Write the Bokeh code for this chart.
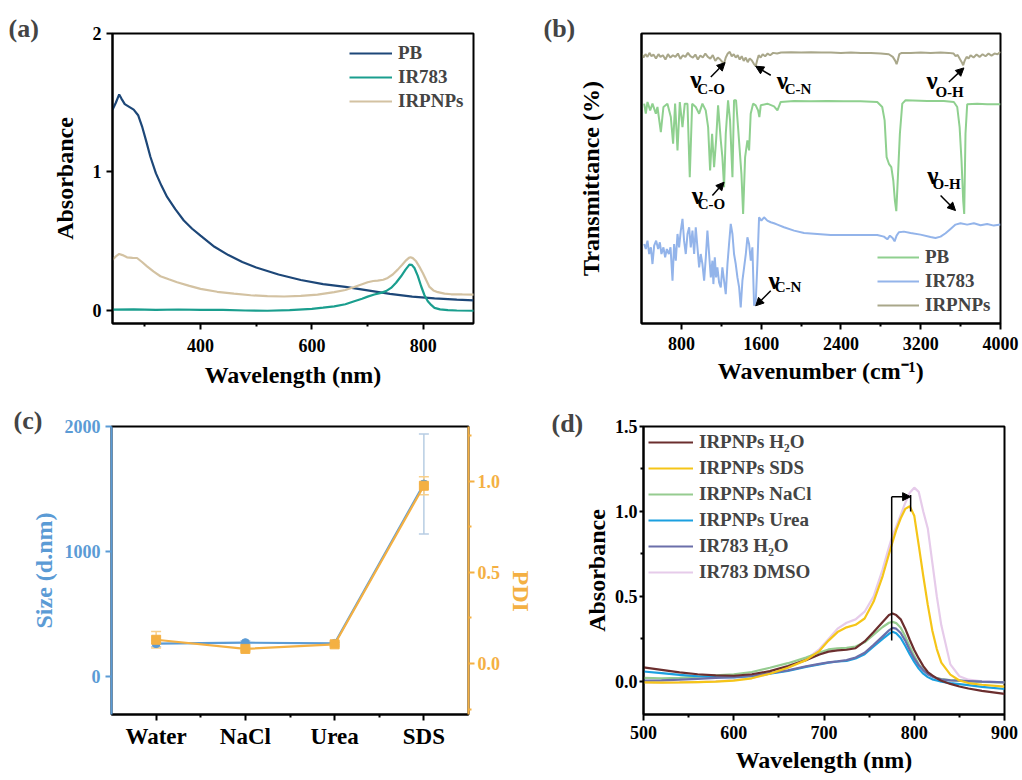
from bokeh.plotting import figure
from bokeh.layouts import column, row
from bokeh.models import (Range1d, LinearAxis, FixedTicker, Legend, LegendItem, Label,
                          Arrow, NormalHead, Whisker, TeeHead, ColumnDataSource,
                          NumeralTickFormatter)
from bokeh.core.properties import value
from bokeh.embed import file_html
from bokeh.resources import INLINE

FONT = "Liberation Serif"

# ---------------- (a) UV-vis ----------------
a_pb_wl = [242, 248, 254, 258, 264, 272, 280, 288, 295, 302, 310, 320, 330, 340, 355, 370, 385, 400,
           425, 450, 475, 500, 540, 580, 620, 660, 700, 740, 780, 820, 860, 890]
a_pb_abs = [1.45, 1.50, 1.56, 1.53, 1.49, 1.47, 1.45, 1.41, 1.33, 1.23, 1.11, 0.99, 0.90, 0.82, 0.73,
            0.65, 0.59, 0.54, 0.46, 0.40, 0.35, 0.31, 0.26, 0.22, 0.19, 0.17, 0.145, 0.12, 0.10,
            0.088, 0.078, 0.073]
a_np_wl = [242, 248, 254, 260, 268, 278, 286, 295, 304, 316, 328, 343, 358, 380, 400, 430, 460, 490,
           520, 550, 580, 610, 640, 660, 676, 690, 700, 710, 718, 728, 736, 745, 754, 762, 769, 774,
           777, 781, 787, 793, 799, 805, 811, 818, 826, 838, 850, 870, 891]
a_np_abs = [0.367, 0.39, 0.408, 0.40, 0.384, 0.38, 0.379, 0.35, 0.319, 0.28, 0.247, 0.225, 0.204,
            0.178, 0.156, 0.135, 0.122, 0.11, 0.103, 0.101, 0.105, 0.115, 0.132, 0.148, 0.17, 0.19,
            0.204, 0.213, 0.216, 0.222, 0.235, 0.26, 0.295, 0.33, 0.362, 0.38, 0.384, 0.378, 0.355,
            0.315, 0.271, 0.22, 0.17, 0.145, 0.132, 0.122, 0.117, 0.116, 0.115]
a_ir_wl = [242, 280, 320, 360, 400, 440, 480, 520, 560, 600, 620, 640, 660, 676, 690, 700, 712, 724,
           733, 742, 751, 760, 768, 775, 779, 784, 790, 796, 802, 808, 814, 820, 830, 844, 860, 891]
a_ir_abs = [0.006, 0.008, 0.004, 0.007, 0.004, 0.005, 0.0, -0.002, 0.002, 0.012, 0.02, 0.03, 0.045,
            0.067, 0.085, 0.10, 0.115, 0.127, 0.14, 0.163, 0.2, 0.247, 0.295, 0.331, 0.33, 0.307,
            0.25, 0.175, 0.11, 0.067, 0.04, 0.019, 0.008, 0.002, 0.0, -0.002]

# ---------------- (b) FTIR (offset transmittance, a.u.) ----------------
b_pb_wn = [427, 443, 460, 487, 510, 544, 560, 594, 620, 660, 694, 717, 737, 761, 784, 811, 834, 861,
           884, 908, 944, 978, 1011, 1044, 1068, 1088, 1108, 1128, 1148, 1168, 1195, 1211, 1228,
           1245, 1268, 1288, 1312, 1328, 1348, 1368, 1385, 1402, 1419, 1439, 1462, 1479, 1495, 1519,
           1545, 1569, 1582, 1596, 1662, 1729, 1763, 1796, 1930, 2096, 2263, 2430, 2597, 2764, 2814,
           2838, 2858, 2881, 2905, 2925, 2941, 2955, 2971, 2991, 3015, 3048, 3265, 3432, 3532, 3566,
           3590, 3609, 3626, 3636, 3649, 3666, 3766, 3866, 4000]
b_pb_t = [65.8, 62.8, 66.3, 63.8, 65.8, 62.8, 64.8, 57.3, 64.8, 65.8, 61.8, 53.8, 65.8, 51.8, 66.3,
          58.8, 65.8, 65.8, 43.8, 65.8, 64.8, 62.8, 65.8, 63.8, 58.8, 45.8, 56.8, 46.8, 54.8, 65.3,
          54.8, 49.8, 40.8, 56.8, 66.8, 60.8, 43.8, 66.8, 66.8, 58.8, 51.8, 44.8, 32.8, 49.8, 54.8,
          51.8, 62.8, 65.8, 65.3, 63.8, 61.8, 65.3, 65.8, 65.0, 63.8, 66.3, 66.6, 66.5, 66.6, 66.5,
          66.5, 66.3, 64.8, 60.8, 49.8, 47.8, 46.8, 42.8, 36.8, 33.6, 43.8, 56.8, 65.8, 66.8, 66.6,
          66.6, 66.3, 64.8, 58.8, 48.8, 36.8, 32.8, 56.8, 65.6, 65.8, 65.6, 65.6]
b_ir_wn = [427, 443, 460, 477, 494, 510, 527, 547, 567, 584, 600, 620, 637, 654, 674, 691, 711, 727,
           744, 761, 777, 794, 811, 827, 844, 861, 878, 894, 911, 928, 944, 961, 978, 994, 1011,
           1028, 1045, 1061, 1078, 1095, 1111, 1121, 1135, 1148, 1161, 1178, 1195, 1211, 1228, 1245,
           1262, 1278, 1295, 1312, 1328, 1345, 1362, 1379, 1395, 1412, 1429, 1446, 1462, 1479, 1496,
           1512, 1529, 1546, 1562, 1579, 1602, 1629, 1662, 1696, 1729, 1763, 1829, 1930, 2030, 2163,
           2297, 2430, 2597, 2764, 2831, 2865, 2891, 2918, 2938, 2958, 2981, 3031, 3098, 3198, 3298,
           3348, 3399, 3449, 3499, 3549, 3599, 3666, 3733, 3800, 3866, 3933, 4000]
b_ir_t = [23.8, 22.3, 24.8, 20.8, 22.8, 17.8, 23.3, 24.8, 22.3, 24.3, 20.8, 22.8, 19.8, 22.3, 20.8,
          22.8, 12.8, 23.8, 18.8, 26.8, 22.8, 27.8, 31.3, 24.8, 20.8, 26.8, 28.8, 22.8, 27.8, 20.8,
          28.8, 22.8, 16.8, 20.8, 17.8, 12.8, 19.8, 27.8, 20.8, 13.8, 18.8, 11.8, 19.8, 13.8, 16.8,
          12.3, 10.8, 16.8, 12.8, 8.8, 17.8, 23.8, 29.8, 26.8, 20.8, 17.8, 13.8, 10.8, 4.8, 12.8,
          16.8, 20.8, 25.8, 23.8, 18.8, 22.8, 5.3, 6.8, 17.8, 31.8, 30.8, 31.8, 30.8, 30.3, 30.0,
          29.6, 28.8, 27.8, 27.1, 26.8, 26.5, 26.5, 26.5, 26.5, 26.0, 25.2, 26.3, 25.6, 24.6, 26.3,
          27.3, 27.5, 27.1, 26.6, 25.9, 25.6, 26.0, 27.0, 28.3, 29.6, 30.0, 29.6, 30.0, 29.4, 29.8,
          29.3, 29.6]
b_np_wn = [400, 420, 440, 460, 480, 500, 520, 545, 570, 590, 615, 640, 665, 690, 715, 740, 765, 790,
           815, 840, 865, 890, 915, 940, 965, 990, 1015, 1040, 1065, 1090, 1115, 1140, 1165, 1190,
           1210, 1228, 1245, 1265, 1285, 1305, 1325, 1345, 1365, 1385, 1405, 1425, 1445, 1465, 1485,
           1505, 1525, 1545, 1560, 1575, 1595, 1615, 1640, 1665, 1690, 1720, 1760, 1800, 1900, 2000,
           2100, 2200, 2300, 2400, 2500, 2600, 2700, 2800, 2880, 2920, 2945, 2958, 2970, 2985, 3010,
           3100, 3200, 3300, 3400, 3480, 3530, 3550, 3570, 3590, 3610, 3626, 3640, 3660, 3680, 3700,
           3730, 3760, 3790, 3820, 3850, 3880, 3910, 3940, 3970, 4000]
b_np_t = [80.8, 79.6, 80.6, 79.8, 81.0, 80.0, 80.5, 79.3, 80.6, 79.8, 80.3, 79.0, 80.6, 79.6, 80.3,
          79.8, 80.8, 79.2, 80.3, 79.8, 81.0, 80.0, 79.6, 80.5, 79.0, 80.2, 79.6, 80.8, 79.8, 79.3,
          80.3, 78.6, 79.6, 79.0, 78.3, 77.8, 79.6, 80.8, 81.3, 80.0, 80.6, 79.6, 80.3, 79.0, 80.0,
          78.6, 79.6, 78.2, 79.3, 78.8, 77.8, 77.0, 78.8, 80.3, 79.6, 80.6, 80.0, 80.8, 80.3, 81.0,
          80.8, 81.1, 81.2, 81.1, 81.2, 81.1, 81.1, 81.0, 81.1, 81.0, 81.0, 80.8, 80.6, 79.8, 78.6,
          77.6, 78.8, 80.6, 81.0, 81.0, 81.1, 81.0, 81.1, 81.0, 80.8, 80.0, 80.4, 79.3, 78.3, 77.3,
          78.6, 79.8, 79.3, 80.3, 79.6, 80.5, 79.8, 80.6, 80.0, 80.8, 80.2, 80.8, 80.6, 81.3]
# band annotations (nu labels, subscripts, arrows)
b_nu_x = [944, 1813, 3315, 961, 3322, 1729]
b_nu_y = [73.1, 72.6, 72.6, 38.3, 44.3, 12.8]
b_sub_x = [1098, 1970, 3489, 1101, 3459, 1869]
b_sub_y = [70.3, 70.3, 69.3, 35.8, 41.8, 10.8]
b_sub_text = ["C-O", "C-N", "O-H", "C-O", "O-H", "C-N"]
b_arr_x0 = [1095, 1696, 3482, 1111, 3399, 1696]
b_arr_y0 = [73.8, 74.3, 72.3, 38.3, 38.3, 9.8]
b_arr_x1 = [1238, 1545, 3633, 1228, 3549, 1545]
b_arr_y1 = [78.1, 77.0, 76.5, 42.3, 33.8, 5.3]

# ---------------- (c) stability ----------------
c_cats = ["Water", "NaCl", "Urea", "SDS"]
c_size = [262, 270, 264, 1540]
c_size_err = [25, 15, 10, 400]
c_pdi = [0.13, 0.08, 0.105, 0.975]
c_pdi_err = [0.045, 0.01, 0.01, 0.05]

# ---------------- (d) UV-vis in media ----------------
d_wl = [500, 520, 540, 560, 580, 600, 620, 640, 660, 680, 695, 705, 715, 725, 735, 745, 755, 765,
        772, 776, 780, 785, 790, 795, 800, 805, 810, 815, 820, 825, 830, 840, 850, 860, 875, 900]
d_np_h2o = [0.082, 0.068, 0.053, 0.042, 0.035, 0.033, 0.042, 0.06, 0.09, 0.125, 0.158, 0.175, 0.182,
            0.186, 0.195, 0.235, 0.29, 0.35, 0.39, 0.399, 0.39, 0.365, 0.31, 0.245, 0.185, 0.135,
            0.09, 0.055, 0.035, 0.018, 0.004, -0.015, -0.03, -0.042, -0.056, -0.074]
d_np_sds = [-0.006, -0.007, -0.006, -0.004, -0.002, 0.004, 0.018, 0.045, 0.08, 0.125, 0.18, 0.24,
            0.29, 0.318, 0.333, 0.37, 0.47, 0.62, 0.75, 0.82, 0.89, 0.96, 1.015, 1.031, 0.975, 0.8,
            0.62, 0.45, 0.3, 0.19, 0.11, 0.04, 0.005, -0.01, -0.02, -0.031]
d_np_nacl = [0.02, 0.018, 0.02, 0.028, 0.035, 0.042, 0.055, 0.08, 0.107, 0.14, 0.17, 0.188, 0.195,
             0.197, 0.205, 0.23, 0.275, 0.32, 0.345, 0.35, 0.343, 0.315, 0.265, 0.205, 0.15, 0.1,
             0.07, 0.045, 0.03, 0.02, 0.013, 0.007, 0.004, 0.0, -0.003, -0.006]
d_np_urea = [0.058, 0.048, 0.038, 0.03, 0.025, 0.024, 0.03, 0.045, 0.062, 0.085, 0.1, 0.11, 0.117,
             0.12, 0.135, 0.16, 0.205, 0.25, 0.28, 0.292, 0.283, 0.255, 0.21, 0.16, 0.115, 0.075,
             0.045, 0.025, 0.012, 0.005, -0.002, -0.01, -0.016, -0.022, -0.032, -0.045]
d_ir_h2o = [0.004, 0.006, 0.01, 0.015, 0.02, 0.025, 0.033, 0.048, 0.065, 0.088, 0.103, 0.112, 0.118,
            0.125, 0.14, 0.168, 0.215, 0.265, 0.3, 0.315, 0.31, 0.285, 0.24, 0.185, 0.135, 0.095,
            0.065, 0.042, 0.028, 0.018, 0.012, 0.006, 0.004, 0.002, -0.002, -0.006]
d_ir_dmso = [-0.006, -0.007, -0.006, -0.004, 0.0, 0.008, 0.02, 0.045, 0.08, 0.13, 0.19, 0.25, 0.31,
             0.345, 0.365, 0.41, 0.5, 0.66, 0.79, 0.86, 0.91, 0.98, 1.05, 1.11, 1.14, 1.115, 1.0,
             0.9, 0.7, 0.5, 0.33, 0.1, 0.03, 0.01, 0.0, -0.006]
d_labels = ["IRPNPs H\u2082O", "IRPNPs SDS", "IRPNPs NaCl", "IRPNPs Urea", "IR783 H\u2082O",
            "IR783 DMSO"]
# red-shift marker (775 nm -> 796 nm)
d_shift_from = 775
d_shift_to = 796
d_shift_level = 1.087


def style_axis(ax, color="black", tick=18, label=24):
    ax.axis_line_width = 2
    ax.axis_line_color = color
    ax.major_tick_line_color = color
    ax.major_tick_line_width = 2
    ax.major_tick_out = 6
    ax.major_tick_in = 0
    ax.minor_tick_line_color = color
    ax.minor_tick_line_width = 2
    ax.minor_tick_out = 3
    ax.minor_tick_in = 0
    ax.major_label_text_font = FONT
    ax.major_label_text_font_style = "bold"
    ax.major_label_text_font_size = f"{tick}px"
    ax.major_label_text_color = color
    ax.axis_label_text_font = FONT
    ax.axis_label_text_font_style = "bold"
    ax.axis_label_text_font_size = f"{label}px"
    ax.axis_label_text_color = color


def mkfig(w, h, xr, yr, bl, br, bt, bb):
    p = figure(width=w, height=h, x_range=Range1d(*xr), y_range=Range1d(*yr),
               output_backend="svg", toolbar_location=None, tools="",
               min_border_left=bl, min_border_right=br, min_border_top=bt, min_border_bottom=bb)
    p.xgrid.visible = False
    p.ygrid.visible = False
    p.outline_line_color = "black"
    p.outline_line_width = 2
    p.outline_line_alpha = 1
    p.background_fill_color = "white"
    p.border_fill_color = "white"
    return p


def panel_tag(p, text, x, y):
    # placed in the top border panel so that it is not clipped to the frame
    p.add_layout(Label(x=x, y=y, x_units="screen", y_units="screen", text=text,
                       text_font=FONT, text_font_style="bold", text_font_size="26px",
                       text_baseline="middle", text_align="left"), "above")


def mk_legend(items, loc, gw, spacing):
    lg = Legend(items=items, location=loc, border_line_color=None, background_fill_alpha=0,
                padding=0, margin=0, spacing=spacing, glyph_width=gw, glyph_height=20,
                label_height=20, label_standoff=6, label_text_font=FONT,
                label_text_font_style="bold", label_text_font_size="19px")
    return lg


# ===== panel a =====
pa = mkfig(511, 390, (242, 890), (-0.094, 2.0), 112, 38, 33, 66)
pa.xaxis.ticker = FixedTicker(ticks=[400, 600, 800], minor_ticks=[300, 500, 700])
pa.yaxis.ticker = FixedTicker(ticks=[0, 1, 2], minor_ticks=[])
pa.xaxis.axis_label = "Wavelength (nm)"
pa.yaxis.axis_label = "Absorbance"
style_axis(pa.xaxis[0])
style_axis(pa.yaxis[0])
pa.xaxis.major_label_standoff = 9
pa.xaxis.axis_label_standoff = 7
pa.yaxis.axis_label_standoff = 12
r1 = pa.line(a_pb_wl, a_pb_abs, line_color="#1d4778", line_width=2.2)
r2 = pa.line(a_ir_wl, a_ir_abs, line_color="#1a9e8e", line_width=2.2)
r3 = pa.line(a_np_wl, a_np_abs, line_color="#d3c2a2", line_width=2.2)
pa.add_layout(mk_legend([LegendItem(label="PB", renderers=[r1]),
                         LegendItem(label="IR783", renderers=[r2]),
                         LegendItem(label="IRPNPs", renderers=[r3])], (237, 211), 43, 2))
panel_tag(pa, "(a)", -104, 5)

# ===== panel b =====
pb = mkfig(511, 390, (400, 4000), (0, 86.8), 130, 22, 33, 67)
pb.xaxis.ticker = FixedTicker(ticks=[800, 1600, 2400, 3200, 4000],
                              minor_ticks=[1200, 2000, 2800, 3600])
pb.yaxis.ticker = FixedTicker(ticks=[], minor_ticks=[])
pb.xaxis.axis_label = "Wavenumber (cm\u207b\u00b9)"
pb.yaxis.axis_label = "Transmittance (%)"
style_axis(pb.xaxis[0])
style_axis(pb.yaxis[0])
pb.xaxis.major_label_standoff = 7
pb.yaxis.major_tick_out = 0
pb.yaxis.minor_tick_out = 0
pb.yaxis.axis_label_standoff = 38
s1 = pb.line(b_pb_wn, b_pb_t, line_color="#8fd08f", line_width=2)
s2 = pb.line(b_ir_wn, b_ir_t, line_color="#93b4ea", line_width=2)
s3 = pb.line(b_np_wn, b_np_t, line_color="#a9a78a", line_width=2)
pb.text(b_nu_x, b_nu_y, text=["\u03bd"] * len(b_nu_x), text_font=value(FONT),
        text_font_style="bold", text_font_size="25px", text_align="center",
        text_baseline="middle", text_color="black")
pb.text(b_sub_x, b_sub_y, text=b_sub_text, text_font=value(FONT), text_font_style="bold",
        text_font_size="15px", text_align="center", text_baseline="middle", text_color="black")
arr_src = ColumnDataSource(dict(x0=b_arr_x0, y0=b_arr_y0, x1=b_arr_x1, y1=b_arr_y1))
pb.add_layout(Arrow(x_start="x0", y_start="y0", x_end="x1", y_end="y1", source=arr_src,
                    line_color="black", line_width=1.5,
                    end=NormalHead(size=8, fill_color="black", line_color="black")))
pb.add_layout(mk_legend([LegendItem(label="PB", renderers=[s1]),
                         LegendItem(label="IR783", renderers=[s2]),
                         LegendItem(label="IRPNPs", renderers=[s3])], (236, 7), 42, 2))
panel_tag(pb, "(b)", -98, 5)

# ===== panel c =====
BLUE = "#5b9bd5"
ORANGE = "#f4b043"
c_x = list(range(1, len(c_cats) + 1))
pc = mkfig(550, 390, (0.5, 4.5), (-305, 2000), 111, 81, 36, 63)
pc.extra_y_ranges = {"pdi": Range1d(-0.28, 1.30)}
pc.xaxis.ticker = FixedTicker(ticks=c_x, minor_ticks=[1.5, 2.5, 3.5])
pc.xaxis.major_label_overrides = {i: c for i, c in zip(c_x, c_cats)}
pc.yaxis.ticker = FixedTicker(ticks=[0, 1000, 2000], minor_ticks=[])
pc.yaxis.axis_label = "Size (d.nm)"
style_axis(pc.xaxis[0], tick=23)
style_axis(pc.yaxis[0], color=BLUE)
pc.xaxis.major_label_standoff = 3
ax_r = LinearAxis(y_range_name="pdi", axis_label="PDI",
                  ticker=FixedTicker(ticks=[0, 0.5, 1.0], minor_ticks=[-0.25, 0.25, 0.75, 1.25]),
                  formatter=NumeralTickFormatter(format="0.0"))
style_axis(ax_r, color=ORANGE)
ax_r.axis_label_orientation = -1.5707963
ax_r.major_label_standoff = 3
ax_r.axis_label_standoff = 18
pc.add_layout(ax_r, "right")

sz_src = ColumnDataSource(dict(x=c_x, y=c_size,
                               lo=[v - e for v, e in zip(c_size, c_size_err)],
                               hi=[v + e for v, e in zip(c_size, c_size_err)]))
pdi_src = ColumnDataSource(dict(x=c_x, y=c_pdi,
                                lo=[v - e for v, e in zip(c_pdi, c_pdi_err)],
                                hi=[v + e for v, e in zip(c_pdi, c_pdi_err)]))
pc.add_layout(Whisker(base="x", lower="lo", upper="hi", source=sz_src, line_color="#b7cde3",
                      line_width=1.5,
                      upper_head=TeeHead(size=10, line_color="#b7cde3", line_width=1.5),
                      lower_head=TeeHead(size=10, line_color="#b7cde3", line_width=1.5)))
pc.line("x", "y", source=sz_src, line_color=BLUE, line_width=2.2)
pc.scatter("x", "y", source=sz_src, marker="circle", size=8, fill_color=BLUE, line_color=BLUE)
pc.add_layout(Whisker(base="x", lower="lo", upper="hi", source=pdi_src, y_range_name="pdi",
                      line_color="#f8cf8a", line_width=1.5,
                      upper_head=TeeHead(size=10, line_color="#f8cf8a", line_width=1.5),
                      lower_head=TeeHead(size=10, line_color="#f8cf8a", line_width=1.5)))
pc.line("x", "y", source=pdi_src, y_range_name="pdi", line_color=ORANGE, line_width=2.2)
pc.scatter("x", "y", source=pdi_src, y_range_name="pdi", marker="square", size=9,
           fill_color=ORANGE, line_color=ORANGE)
panel_tag(pc, "(c)", -98, 6)

# ===== panel d =====
pd_ = mkfig(472, 390, (500, 900), (-0.195, 1.5), 93, 18, 34, 66)
pd_.xaxis.ticker = FixedTicker(ticks=[500, 600, 700, 800, 900], minor_ticks=[550, 650, 750, 850])
pd_.yaxis.ticker = FixedTicker(ticks=[0, 0.5, 1.0, 1.5], minor_ticks=[0.25, 0.75, 1.25])
pd_.yaxis.formatter = NumeralTickFormatter(format="0.0")
pd_.xaxis.axis_label = "Wavelength (nm)"
pd_.yaxis.axis_label = "Absorbance"
style_axis(pd_.xaxis[0])
style_axis(pd_.yaxis[0])
pd_.yaxis.major_tick_out = 4
pd_.yaxis.major_label_standoff = 2
pd_.yaxis.axis_label_standoff = 2
d_series = [d_np_h2o, d_np_sds, d_np_nacl, d_np_urea, d_ir_h2o, d_ir_dmso]
d_colors = ["#6b2e2e", "#f5c518", "#96cc90", "#1ba0e0", "#6b6faa", "#e6cbea"]
rend = {}
for i in [5, 2, 3, 4, 0, 1]:
    rend[i] = pd_.line(d_wl, d_series[i], line_color=d_colors[i], line_width=2.2)
pd_.segment(x0=[d_shift_from, d_shift_to], y0=[0.24, 1.0], x1=[d_shift_from, d_shift_to],
            y1=[d_shift_level, d_shift_level + 0.01], line_color="black", line_width=1.5)
pd_.add_layout(Arrow(x_start=d_shift_from, y_start=d_shift_level, x_end=d_shift_to,
                     y_end=d_shift_level, line_color="black", line_width=1.5,
                     end=NormalHead(size=8, fill_color="black", line_color="black")))
pd_.add_layout(mk_legend([LegendItem(label=d_labels[i], renderers=[rend[i]]) for i in range(6)],
                         (5, 131), 45, 4))
panel_tag(pd_, "(d)", -92, 3)

layout = column(row(pa, pb, spacing=0), row(pc, pd_, spacing=0), spacing=0)
open("out.html", "w").write(file_html(layout, INLINE))
